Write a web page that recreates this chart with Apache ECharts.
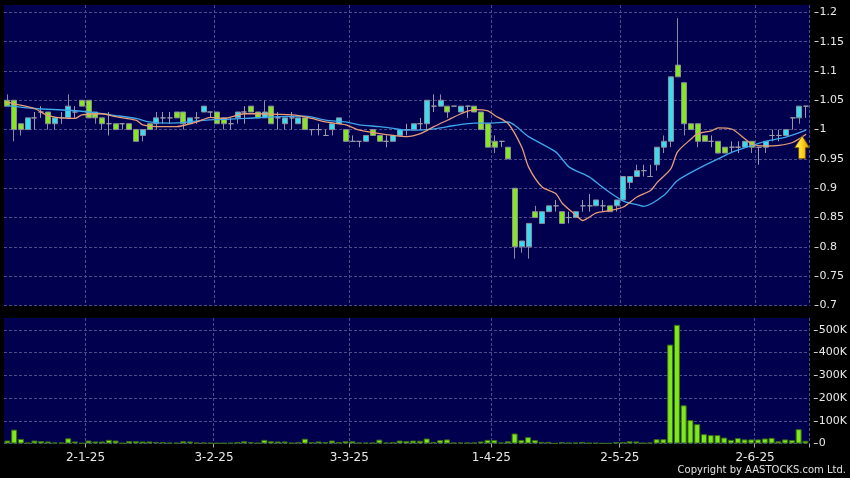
<!DOCTYPE html>
<html>
<head>
<meta charset="utf-8">
<script src="https://cdn.jsdelivr.net/npm/echarts@6/dist/echarts.min.js"></script>
<style>
html,body{margin:0;padding:0;background:#000;}
#c{width:850px;height:478px;}
</style>
</head>
<body>
<div id="c"></div>
<script>
const categories = ['12-12-24','13-12-24','16-12-24','17-12-24','18-12-24','19-12-24','20-12-24','23-12-24','24-12-24','27-12-24','30-12-24','31-12-24',
'2-1-25','3-1-25','6-1-25','7-1-25','8-1-25','9-1-25','10-1-25','13-1-25','14-1-25','15-1-25','16-1-25','17-1-25','20-1-25','21-1-25','22-1-25','23-1-25','24-1-25','27-1-25','28-1-25',
'3-2-25','4-2-25','5-2-25','6-2-25','7-2-25','10-2-25','11-2-25','12-2-25','13-2-25','14-2-25','17-2-25','18-2-25','19-2-25','20-2-25','21-2-25','24-2-25','25-2-25','26-2-25','27-2-25','28-2-25',
'3-3-25','4-3-25','5-3-25','6-3-25','7-3-25','10-3-25','11-3-25','12-3-25','13-3-25','14-3-25','17-3-25','18-3-25','19-3-25','20-3-25','21-3-25','24-3-25','25-3-25','26-3-25','27-3-25','28-3-25','31-3-25',
'1-4-25','2-4-25','3-4-25','7-4-25','8-4-25','9-4-25','10-4-25','11-4-25','14-4-25','15-4-25','16-4-25','17-4-25','22-4-25','23-4-25','24-4-25','25-4-25','28-4-25','29-4-25','30-4-25',
'2-5-25','6-5-25','7-5-25','8-5-25','9-5-25','12-5-25','13-5-25','14-5-25','15-5-25','16-5-25','19-5-25','20-5-25','21-5-25','22-5-25','23-5-25','26-5-25','27-5-25','28-5-25','29-5-25','30-5-25',
'2-6-25','3-6-25','4-6-25','5-6-25','6-6-25','9-6-25','10-6-25','11-6-25'];

const tickLabels = ['2-1-25','3-2-25','3-3-25','1-4-25','2-5-25','2-6-25'];
const priceTicks = [0.7,0.75,0.8,0.85,0.9,0.95,1,1.05,1.1,1.15,1.2];
const volumeTicks = [0,100000,200000,300000,400000,500000];

const opens = [1.05,1.05,1.01,1.00,1.02,1.03,1.03,1.01,1.02,1.02,
1.03,1.05,1.05,1.03,1.02,1.01,1.01,1.01,1.01,1.00,
0.99,1.01,1.01,1.02,1.02,1.03,1.03,1.01,1.02,1.03,
1.03,1.03,1.02,1.01,1.02,1.03,1.04,1.03,1.02,1.04,
1.02,1.01,1.02,1.01,1.02,1.00,1.00,0.99,1.00,1.01,
1.00,0.98,0.98,0.98,1.00,0.99,0.98,0.98,0.99,1.00,
1.00,1.01,1.01,1.04,1.04,1.04,1.04,1.03,1.04,1.04,
1.03,1.01,0.98,0.98,0.97,0.90,0.80,0.80,0.86,0.84,
0.86,0.87,0.86,0.85,0.85,0.87,0.87,0.87,0.87,0.87,
0.87,0.88,0.91,0.92,0.93,0.92,0.94,0.97,0.98,1.11,
1.08,1.01,1.01,0.99,0.98,0.98,0.97,0.97,0.97,0.97,
0.98,0.97,0.97,0.99,0.99,0.99,1.02,1.02,1.04];

const closes = [1.04,1.00,1.00,1.02,1.02,1.03,1.01,1.02,1.02,1.04,
1.03,1.04,1.02,1.02,1.01,1.01,1.00,1.01,1.00,0.98,
1.00,1.00,1.02,1.02,1.02,1.02,1.01,1.02,1.02,1.04,
1.03,1.01,1.01,1.01,1.03,1.03,1.03,1.02,1.03,1.01,
1.02,1.02,1.02,1.02,1.00,1.00,1.00,0.99,1.01,1.02,
0.98,0.98,0.98,0.99,0.99,0.98,0.98,0.99,1.00,1.00,
1.01,1.01,1.05,1.04,1.05,1.03,1.04,1.04,1.04,1.03,
1.00,0.97,0.97,0.98,0.95,0.80,0.81,0.84,0.85,0.86,
0.87,0.87,0.84,0.85,0.86,0.87,0.87,0.88,0.87,0.86,
0.88,0.92,0.92,0.93,0.93,0.92,0.97,0.98,1.09,1.09,
1.01,1.00,0.98,0.98,0.98,0.96,0.96,0.97,0.97,0.98,
0.97,0.97,0.98,0.99,0.99,1.00,1.02,1.04,1.04];

const lows = [1.04,0.98,0.99,1.00,1.00,1.02,1.00,1.00,1.01,1.02,
1.02,1.04,1.02,1.01,1.00,0.99,1.00,1.00,1.00,0.98,
0.98,1.00,1.00,1.01,1.01,1.02,1.00,1.01,1.01,1.03,
1.02,1.01,1.00,1.00,1.01,1.01,1.03,1.02,1.02,1.01,
1.00,1.00,1.00,1.01,1.00,0.99,0.99,0.99,0.99,1.01,
0.98,0.98,0.97,0.98,0.99,0.98,0.97,0.98,0.99,0.99,
1.00,1.00,1.00,1.03,1.04,1.02,1.04,1.03,1.02,1.03,
1.00,0.97,0.96,0.97,0.95,0.78,0.79,0.78,0.85,0.84,
0.86,0.86,0.84,0.84,0.85,0.86,0.86,0.87,0.86,0.86,
0.86,0.88,0.90,0.92,0.92,0.92,0.93,0.96,0.97,1.09,
0.99,1.00,0.97,0.98,0.97,0.96,0.96,0.96,0.96,0.97,
0.96,0.94,0.96,0.98,0.98,0.99,1.00,1.01,1.02];

const highs = [1.06,1.05,1.01,1.02,1.03,1.04,1.03,1.02,1.03,1.06,
1.04,1.05,1.05,1.03,1.02,1.03,1.01,1.01,1.01,1.00,
1.00,1.01,1.03,1.03,1.03,1.03,1.03,1.02,1.03,1.04,
1.03,1.03,1.02,1.02,1.03,1.04,1.04,1.03,1.05,1.04,
1.03,1.02,1.03,1.02,1.02,1.00,1.01,1.00,1.01,1.02,
1.00,0.99,0.98,0.99,1.00,0.99,0.99,0.99,1.00,1.01,
1.01,1.02,1.05,1.06,1.06,1.04,1.04,1.04,1.04,1.04,
1.03,1.01,0.99,0.98,0.97,0.90,0.81,0.84,0.87,0.86,
0.87,0.88,0.86,0.86,0.86,0.88,0.89,0.88,0.88,0.87,
0.88,0.92,0.92,0.94,0.94,0.94,0.97,0.99,1.09,1.19,
1.08,1.01,1.01,0.99,0.99,0.98,0.97,0.98,0.98,0.98,
0.98,0.97,0.98,1.00,1.00,1.00,1.02,1.04,1.04];

const volumes = [13000,61000,20000,4000,13000,11000,9000,4000,4000,23000,9000,2000,
13000,9000,9000,16000,13000,2000,11000,10000,9000,9000,7000,6000,
4000,3000,10000,9000,4000,4000,3000,2000,2000,3000,6000,10000,
6000,3000,16000,10000,9000,9000,3000,6000,21000,6000,9000,6000,
13000,6000,10000,10000,4000,4000,4000,17000,4000,6000,13000,11000,
13000,12000,22000,7000,15000,18000,4000,4000,4000,4000,9000,16000,
15000,4000,10000,44000,15000,28000,15000,7000,7000,1000,6000,4000,
4000,7000,3000,3000,1000,1000,6000,6000,10000,9000,3000,4000,
19000,19000,435000,522000,168000,103000,85000,41000,37000,37000,26000,16000,
24000,18000,18000,18000,22000,25000,10000,18000,15000,63000,12000];

// moving averages: [category index, value]
const maShort = [[0,1.047],[1,1.044],[4,1.036],[6,1.024],[9,1.019],[10,1.019],[11,1.025],[14,1.027],[16,1.022],[19,1.016],[20,1.008],[22,1.005],[25,1.005],[26,1.007],[28,1.013],[30,1.021],[32,1.019],[35,1.027],[37,1.027],[40,1.026],[43,1.024],[45,1.019],[47,1.013],[50,1.008],[52,0.999],[55,0.993],[57,0.990],[59,0.988],[61,0.993],[63,1.005],[65,1.016],[67,1.027],[69,1.034],[71,1.032],[72,1.024],[74,1.010],[76,0.970],[77,0.936],[79,0.902],[81,0.891],[82,0.874],[84,0.854],[85,0.845],[86,0.851],[87,0.858],[89,0.862],[91,0.868],[93,0.885],[95,0.896],[96,0.910],[98,0.933],[99,0.962],[101,0.984],[102,0.993],[104,0.998],[105,1.003],[107,1.001],[109,0.984],[110,0.975],[112,0.972],[114,0.973],[116,0.978],[118,0.992]];
const maLong = [[0,1.041],[4,1.036],[9,1.033],[12,1.030],[16,1.024],[19,1.019],[21,1.013],[24,1.011],[27,1.013],[28,1.015],[31,1.017],[35,1.019],[40,1.022],[44,1.023],[47,1.016],[50,1.013],[52,1.008],[55,1.005],[57,1.002],[59,0.999],[62,1.000],[64,1.003],[66,1.007],[69,1.011],[71,1.011],[74,1.013],[75,1.007],[77,0.988],[81,0.962],[83,0.936],[86,0.919],[88,0.901],[91,0.878],[93,0.872],[94,0.869],[97,0.888],[99,0.913],[102,0.933],[105,0.950],[107,0.961],[110,0.973],[112,0.980],[115,0.987],[118,0.999]];

const signalValue = 0.97;

const candleData = opens.map((o, i) => [o, closes[i], lows[i], highs[i]]);
const isTick = (idx, val) => tickLabels.indexOf(val) >= 0;
const gridLine = { show: true, lineStyle: { color: '#4c4c8c', type: [3, 2], width: 1 } };
const FONT = '"DejaVu Sans", sans-serif';

const chart = echarts.init(document.getElementById('c'), null, { renderer: 'canvas' });
chart.setOption({
  backgroundColor: '#000000',
  animation: false,
  textStyle: { fontFamily: FONT },
  grid: [
    { left: 4, right: 40.5, top: 5, height: 300.5, show: true, backgroundColor: '#00004e', borderWidth: 0 },
    { left: 4, right: 40.5, top: 318, height: 125.5, show: true, backgroundColor: '#00004e', borderWidth: 0 }
  ],
  xAxis: [
    { type: 'category', gridIndex: 0, data: categories, boundaryGap: true,
      axisLine: { show: false }, axisTick: { show: false }, axisLabel: { show: false },
      splitLine: Object.assign({ interval: isTick }, gridLine) },
    { type: 'category', gridIndex: 1, data: categories, boundaryGap: true,
      axisLine: { show: false },
      axisTick: { show: true, interval: isTick, length: 4, lineStyle: { color: '#aaaaaa' } },
      axisLabel: { show: true, interval: isTick, color: '#e8e8e8', fontSize: 12, margin: 8, padding: [0, 6, 0, 0], fontFamily: FONT },
      splitLine: Object.assign({ interval: isTick }, gridLine) }
  ],
  yAxis: [
    { type: 'value', gridIndex: 0, position: 'right', min: 0.7, max: 1.2125, offset: 5,
      axisLine: { show: false },
      axisTick: { show: true, length: 4, customValues: priceTicks, lineStyle: { color: '#cccccc' } },
      axisLabel: { customValues: priceTicks, color: '#e8e8e8', fontSize: 11, margin: 5, fontFamily: FONT },
      splitLine: gridLine },
    { type: 'value', gridIndex: 1, position: 'right', min: 0, max: 552000, offset: 5,
      axisLine: { show: false },
      axisTick: { show: true, length: 4, customValues: volumeTicks, lineStyle: { color: '#cccccc' } },
      axisLabel: { customValues: volumeTicks, color: '#e8e8e8', fontSize: 11, margin: 5, fontFamily: FONT,
        formatter: v => v === 0 ? '0' : (v / 1000) + 'K' },
      splitLine: gridLine }
  ],
  series: [
    { type: 'candlestick', xAxisIndex: 0, yAxisIndex: 0, data: candleData, barWidth: 5.5,
      itemStyle: { color: '#35dcf2', color0: '#86e620', borderColor: '#8c8c9a', borderColor0: '#8c8c9a', borderColorDoji: '#9a9aa8', borderWidth: 1 },
      markPoint: {
        symbol: 'path://M7.5,0 L15,12 L11,12 L11,23 L4,23 L4,12 L0,12 Z',
        symbolSize: [15, 23],
        symbolOffset: [-4, 0],
        label: { show: false },
        itemStyle: {
          color: new echarts.graphic.LinearGradient(0, 0, 1, 0, [
            { offset: 0, color: '#fff27a' }, { offset: 0.5, color: '#ffd21e' }, { offset: 1, color: '#c98d00' }]),
          borderColor: '#6a4a00', borderWidth: 0.8
        },
        data: [{ coord: [categories[categories.length - 1], signalValue] }]
      }
    },
    { type: 'line', xAxisIndex: 0, yAxisIndex: 0, data: maLong, showSymbol: false, symbol: 'none', smooth: 0.25,
      lineStyle: { color: '#3fa6ec', width: 1.3 }, z: 3 },
    { type: 'line', xAxisIndex: 0, yAxisIndex: 0, data: maShort, showSymbol: false, symbol: 'none', smooth: 0.25,
      lineStyle: { color: '#e89c78', width: 1.3 }, z: 3 },
    { type: 'bar', xAxisIndex: 1, yAxisIndex: 1, data: volumes, barWidth: 6,
      itemStyle: { color: '#7ee81c', borderColor: '#3a6e12', borderWidth: 1 } }
  ],
  graphic: [
    { type: 'text', right: 4, top: 465, style: { text: 'Copyright by AASTOCKS.com Ltd.', fill: '#e0e0e0', font: '10px "DejaVu Sans"' } }
  ]
});
</script>
</body>
</html>
